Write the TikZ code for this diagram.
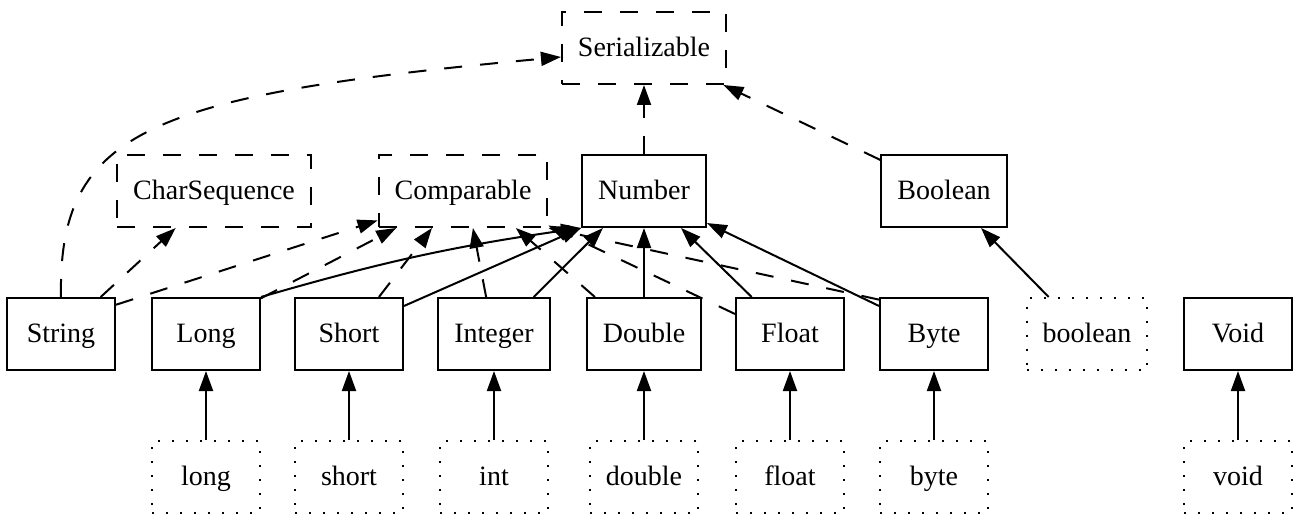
\documentclass[tikz,border=0pt]{standalone}
\usepackage{fontspec}
\setmainfont{Liberation Serif}
\usetikzlibrary{arrows.meta}

\begin{document}
\begin{tikzpicture}[
  x=0.5pt, y=-0.5pt,
  font=\fontsize{14pt}{16pt}\selectfont,
  box/.style={rectangle, minimum width=54pt, minimum height=36pt,
              inner xsep=8pt, text height=11pt, text depth=2.6pt,
              line width=1pt},
  cls/.style={box, draw},
  iface/.style={box, draw, dash pattern=on 9pt off 9pt},
  prim/.style={box, draw, dash pattern=on 1pt off 6pt},
  ext/.style={line width=1pt, -{Triangle[length=10pt, width=7pt]}},
  impl/.style={ext, dash pattern=on 9pt off 9pt},
]

% Canvas
\useasboundingbox (0,0) rectangle (1299,518);

% Interfaces and abstract types
\node[iface] (ser)     at (644,48)  {Serializable};
\node[iface] (charseq) at (214,191) {CharSequence};
\node[iface] (comp)    at (463,191) {Comparable};
\node[cls]   (num)     at (644,191) {Number};
\node[cls]   (wbool)   at (944,191) {Boolean};

% Wrapper classes
\node[cls]  (str)     at (61,334)   {String};
\node[cls]  (wlong)   at (206,334)  {Long};
\node[cls]  (wshort)  at (349,334)  {Short};
\node[cls]  (wint)    at (494,334)  {Integer};
\node[cls]  (wdouble) at (644,334)  {Double};
\node[cls]  (wfloat)  at (790,334)  {Float};
\node[cls]  (wbyte)   at (934,334)  {Byte};
\node[prim] (pbool)   at (1087,334) {boolean};
\node[cls]  (wvoid)   at (1238,334) {Void};

% Primitive types
\node[prim] (plong)   at (206,477)  {long};
\node[prim] (pshort)  at (349,477)  {short};
\node[prim] (pint)    at (494,477)  {int};
\node[prim] (pdouble) at (644,477)  {double};
\node[prim] (pfloat)  at (790,477)  {float};
\node[prim] (pbyte)   at (934,477)  {byte};
\node[prim] (pvoid)   at (1238,477) {void};

% Serializable
\draw[impl] (str.north) .. controls (58,130) and (150,95) .. ([yshift=-4.5pt]ser.west);
\draw[impl] (num.north) -- (ser.south);
\draw[impl] (wbool.154) -- (ser.335);

% CharSequence and Comparable
\draw[impl] (str.43) -- (charseq.224);
\draw[impl] (str.28) -- (comp.199);
\draw[impl] (wlong.33) -- (comp.209);
\draw[impl] (wshort.51) -- (comp.230);
\draw[impl] (wint.102) -- (comp.285);
\draw[impl] (wdouble.143) -- (comp.325);
\draw[impl] (wfloat.160) -- (comp.338);
\draw[impl] (wbyte.148) -- (comp.south east);

% Number subclasses
\draw[ext] (wlong.north east) to[bend left=4] (num.south west);
\draw[ext] (wshort.27) -- (num.south west);
\draw[ext] (wint.43) -- (num.222);
\draw[ext] (wdouble.north) -- (num.south);
\draw[ext] (wfloat.136) -- (num.315);
\draw[ext] (wbyte.153) -- (num.333);
\draw[ext] (pbool.136) -- (wbool.315);

% Boxing
\foreach \p/\w in {plong/wlong, pshort/wshort, pint/wint, pdouble/wdouble,
                   pfloat/wfloat, pbyte/wbyte, pvoid/wvoid}
  \draw[ext] (\p) -- (\w);

\end{tikzpicture}
\end{document}
